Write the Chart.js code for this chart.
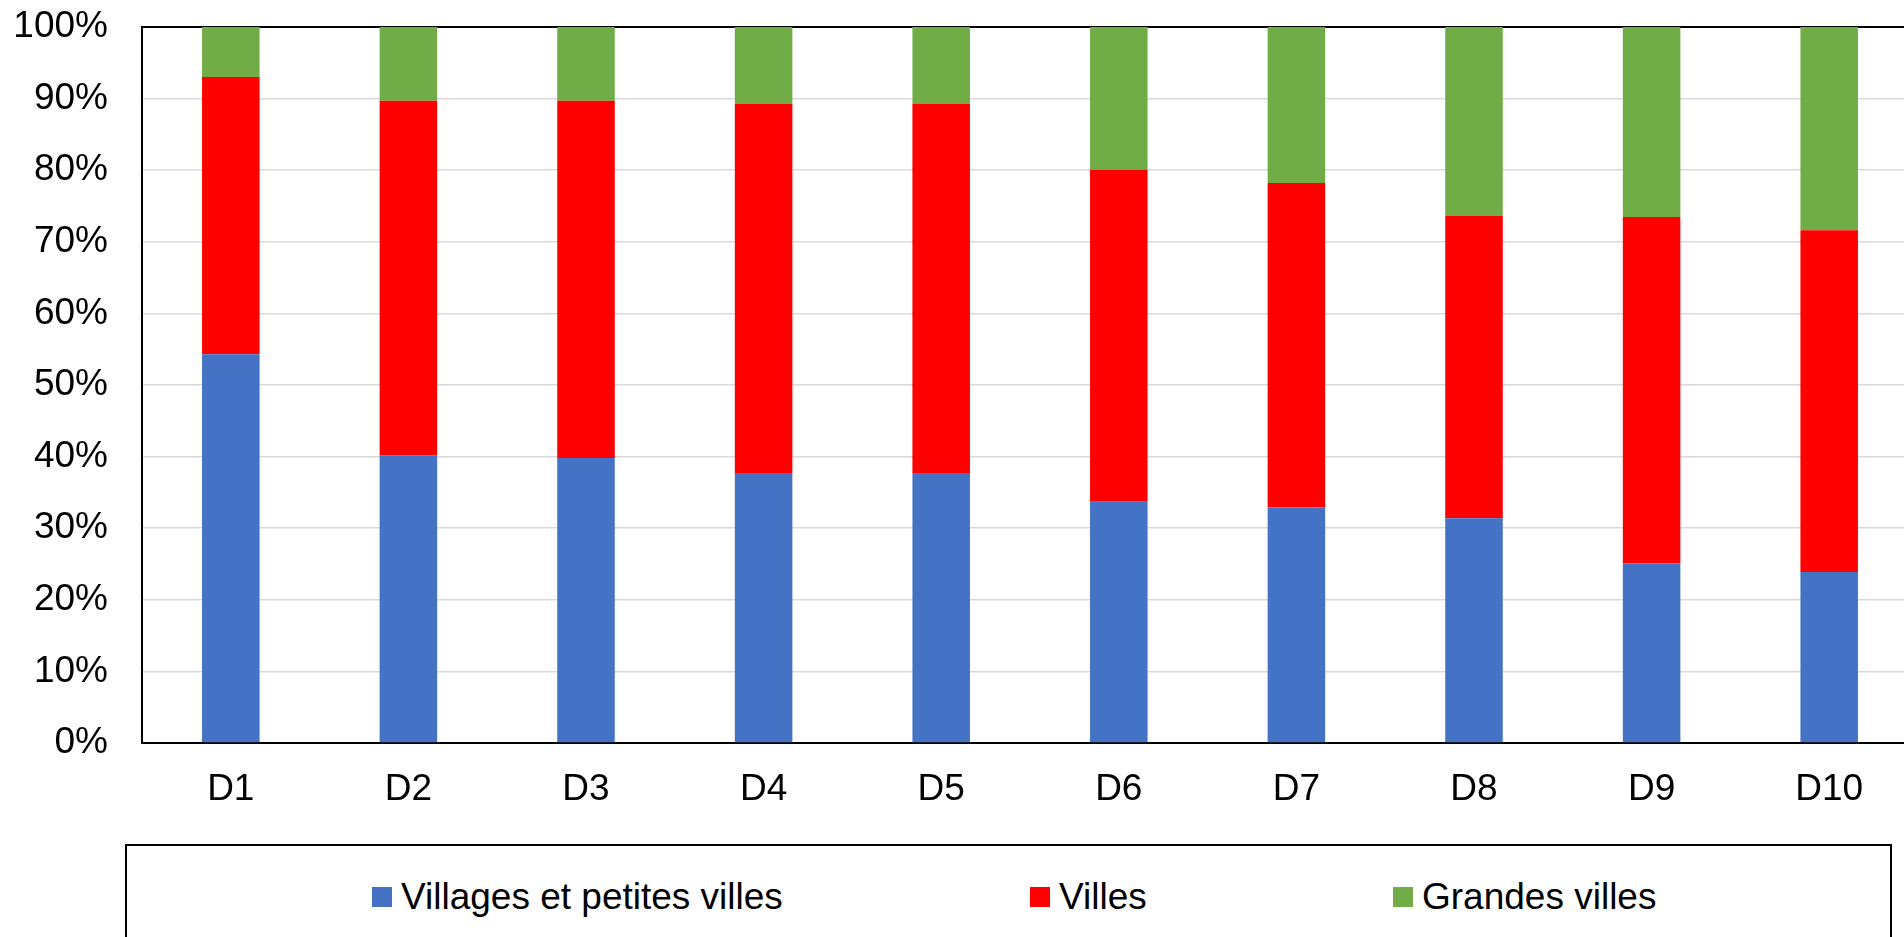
<!DOCTYPE html>
<html>
<head>
<meta charset="utf-8">
<script src="https://cdn.jsdelivr.net/npm/chart.js@4/dist/chart.umd.min.js"></script>
<style>
    body { margin: 0; background: #fff; overflow: hidden; width: 1904px; height: 937px; position: relative; }
    #wrap { position: absolute; left: 0; top: 0; width: 1940px; height: 837px; }
    #legend {
        position: absolute; left: 125px; top: 844px; width: 1763px; height: 130px;
        border: 2px solid #000; box-sizing: content-box;
        font-family: "Liberation Sans", Arial, sans-serif; font-size: 37px; color: #000;
    }
    #legend .item { position: absolute; top: 30px; display: flex; align-items: center; white-space: nowrap; }
    #legend .box { width: 20px; height: 20px; margin-right: 9px; }
</style>
</head>
<body>
<div id="wrap"><canvas id="decileChart"></canvas></div>
<div id="legend"></div>
<script>
const categories = ["D1", "D2", "D3", "D4", "D5", "D6", "D7", "D8", "D9", "D10"];
const seriesNames = ["Villages et petites villes", "Villes", "Grandes villes"];
const villages = [54.3, 40.2, 39.8, 37.7, 37.7, 33.7, 32.9, 31.4, 25.1, 23.9];
const villes = [38.7, 49.5, 49.9, 51.55, 51.55, 46.35, 45.3, 42.2, 48.35, 47.7];
const grandesVilles = [7.0, 10.3, 10.3, 10.75, 10.75, 19.95, 21.8, 26.4, 26.55, 28.4];
const yTicks = [0, 10, 20, 30, 40, 50, 60, 70, 80, 90, 100];
const colors = ["#4472C4", "#FF0000", "#70AD47"];

document.addEventListener("DOMContentLoaded", function () {
    let ctx = document.getElementById("decileChart").getContext("2d");
    const font = { family: "'Liberation Sans', Arial, sans-serif", size: 37 };

    let chart = new Chart(ctx, {
        type: "bar",
        data: {
            labels: categories,
            datasets: [villages, villes, grandesVilles].map((vals, i) => ({
                label: seriesNames[i],
                data: vals,
                backgroundColor: colors[i],
                borderWidth: 0,
                categoryPercentage: 1,
                barPercentage: 0.324
            }))
        },
        options: {
            responsive: true,
            maintainAspectRatio: false,
            animation: false,
            layout: { padding: { top: 27, right: 22, left: 0, bottom: 0 } },
            plugins: { legend: { display: false }, tooltip: { enabled: false } },
            scales: {
                x: {
                    stacked: true,
                    grid: { display: false, drawTicks: false },
                    border: { display: true, color: "#000", width: 2 },
                    ticks: { font: font, color: "#000", padding: 25 },
                    afterFit: s => { s.height = 94; }
                },
                y: {
                    stacked: true,
                    min: 0,
                    max: 100,
                    afterBuildTicks: s => { s.ticks = yTicks.map(v => ({ value: v })); },
                    grid: {
                        drawTicks: false,
                        color: c => c.tick.value === 100 ? "#000" : (c.tick.value === 0 ? "rgba(0,0,0,0)" : "#d9d9d9"),
                        lineWidth: c => c.tick.value === 100 ? 2 : 1.5
                    },
                    border: { display: true, color: "#000", width: 2 },
                    ticks: { font: font, color: "#000", padding: 34, callback: v => v + "%" },
                    afterFit: s => { s.width = 142; s.paddingTop = 0; s.paddingBottom = 0; }
                }
            }
        }
    });

    // legend box built from the chart's datasets
    const legend = document.getElementById("legend");
    const itemLeft = [372, 1030, 1393];
    chart.data.datasets.forEach((ds, i) => {
        const item = document.createElement("div");
        item.className = "item";
        item.style.left = (itemLeft[i] - 127) + "px";
        item.innerHTML = '<span class="box" style="background:' + ds.backgroundColor + '"></span><span>' + ds.label + '</span>';
        legend.appendChild(item);
    });
});
</script>
</body>
</html>
